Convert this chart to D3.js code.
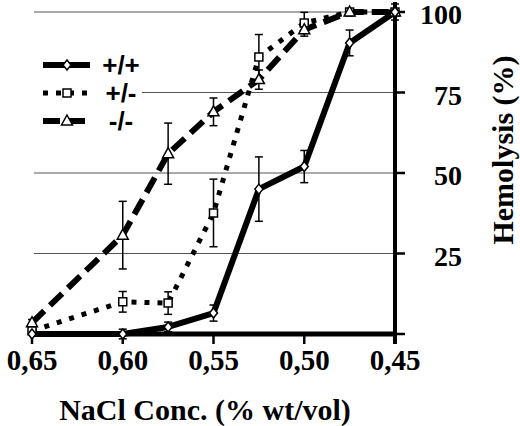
<!DOCTYPE html>
<html><head><meta charset="utf-8">
<script src="https://cdn.jsdelivr.net/npm/d3@7"></script>
<style>body{margin:0;background:#fff}</style>
</head><body><svg id="c" width="520" height="426"></svg>
<script>
const concentrations = [0.65, 0.60, 0.575, 0.55, 0.525, 0.50, 0.475, 0.45];
const wildType      = [0, 0, 2.2, 6.5, 45, 52, 90.4, 100];
const wildTypeErr   = [0, 1.5, 1.5, 2.5, 10, 5, 4, 2.5];
const hetero        = [1, 10, 9.6, 37.6, 86, 96.6, 100, 100];
const heteroErr     = [0, 3.2, 3.5, 10.5, 7, 3.3, 1, 1];
const knockout      = [3.5, 30.7, 56, 69, 79, 94.5, 100, 100];
const knockoutErr   = [1, 10.5, 9.5, 4.3, 3, 2, 1, 1];
const xTicks = [0.65, 0.60, 0.55, 0.50, 0.45];
const xTickLabels = ["0,65", "0,60", "0,55", "0,50", "0,45"];
const yTicks = [0, 25, 50, 75, 100];
const yTickLabels = ["", "25", "50", "75", "100"];
const seriesNames = ["+/+", "+/-", "-/-"];
const xTitle = "NaCl Conc. (% wt/vol)";
const yTitle = "Hemolysis (%)";

const svg = d3.select("#c");
const x = d3.scaleLinear().domain([0.65, 0.45]).range([32, 395]);
const y = d3.scaleLinear().domain([0, 100]).range([334, 12]);
const serif = "'Liberation Serif','Times New Roman',serif";
const sans = "'Liberation Sans',Arial,sans-serif";

// gridlines
svg.append("g").selectAll("line").data(yTicks.filter(d => d > 0)).join("line")
  .attr("x1", 34).attr("x2", x(0.45)).attr("y1", d => y(d)).attr("y2", d => y(d))
  .attr("stroke", "#555").attr("stroke-width", 1);

// series definitions
const series = [
  {name: seriesNames[1], vals: hetero, err: heteroErr, dash: "5,8", w: 5, marker: "square"},
  {name: seriesNames[2], vals: knockout, err: knockoutErr, dash: "17,8", w: 6, marker: "triangle"},
  {name: seriesNames[0], vals: wildType, err: wildTypeErr, dash: null, w: 6, marker: "diamond"}
];

const markerPath = {
  diamond: "M0,-5L4,0L0,5L-4,0Z",
  square: "M-4,-4H4V4H-4Z",
  triangle: "M0,-6L5.5,4H-5.5Z"
};

// axes
const axisG = svg.append("g");
axisG.append("line").attr("x1", 29).attr("x2", x(0.45) + 2).attr("y1", y(0)).attr("y2", y(0))
  .attr("stroke", "#000").attr("stroke-width", 5);
axisG.selectAll(".xt").data(xTicks).join("line")
  .attr("x1", d => x(d)).attr("x2", d => x(d)).attr("y1", y(0)).attr("y2", y(0) + 10)
  .attr("stroke", "#000").attr("stroke-width", 2.5);
axisG.append("line").attr("x1", x(0.45)).attr("x2", x(0.45)).attr("y1", 2).attr("y2", y(0) + 10)
  .attr("stroke", "#000").attr("stroke-width", 4);
axisG.selectAll(".yt").data(yTicks).join("line")
  .attr("x1", x(0.45)).attr("x2", x(0.45) + 10).attr("y1", d => y(d)).attr("y2", d => y(d))
  .attr("stroke", "#000").attr("stroke-width", 2.5);

// tick labels
svg.append("g").selectAll("text").data(xTicks).join("text")
  .attr("x", d => x(d)).attr("y", y(0) + 36)
  .attr("text-anchor", "middle").attr("font-family", serif).attr("font-weight", "bold")
  .attr("font-size", 29).text((d, i) => xTickLabels[i]);
svg.append("g").selectAll("text").data(yTicks).join("text")
  .attr("x", 462).attr("y", d => y(d) + 12)
  .attr("text-anchor", "end").attr("font-family", serif).attr("font-weight", "bold")
  .attr("font-size", 28).text((d, i) => yTickLabels[i]);

// titles
svg.append("text").attr("x", 205).attr("y", 420).attr("text-anchor", "middle")
  .attr("font-family", serif).attr("font-weight", "bold").attr("font-size", 30).text(xTitle);
svg.append("text").attr("transform", "translate(513,150) rotate(-90)").attr("text-anchor", "middle")
  .attr("font-family", serif).attr("font-weight", "bold").attr("font-size", 30).text(yTitle);

// lines
const line = d3.line().x(d => x(d[0])).y(d => y(d[1]));
series.forEach(s => {
  const pts = concentrations.map((c, i) => [c, s.vals[i]]);
  svg.append("path").attr("d", line(pts)).attr("fill", "none").attr("stroke", "#000")
    .attr("stroke-width", s.w).attr("stroke-dasharray", s.dash).attr("stroke-linejoin", "round");
});
// error bars
series.forEach(s => {
  const g = svg.append("g").attr("stroke", "#000").attr("stroke-width", 1.5);
  concentrations.forEach((c, i) => {
    const e = s.err[i];
    if (!e) return;
    const cx = x(c), top = y(s.vals[i] + e), bot = y(s.vals[i] - e);
    g.append("line").attr("x1", cx).attr("x2", cx).attr("y1", top).attr("y2", bot);
    g.append("line").attr("x1", cx - 4).attr("x2", cx + 4).attr("y1", top).attr("y2", top);
    g.append("line").attr("x1", cx - 4).attr("x2", cx + 4).attr("y1", bot).attr("y2", bot);
  });
});
// markers
series.forEach(s => {
  svg.append("g").selectAll("path").data(concentrations).join("path")
    .attr("transform", (c, i) => `translate(${x(c)},${y(s.vals[i])})`)
    .attr("d", markerPath[s.marker]).attr("fill", "#fff").attr("stroke", "#000").attr("stroke-width", 1.5);
});

// legend
const leg = svg.append("g");
leg.append("rect").attr("x", 34).attr("y", 48).attr("width", 108).attr("height", 88).attr("fill", "#fff");
const legRows = [
  {s: series[2], y: 65},
  {s: series[0], y: 93},
  {s: series[1], y: 121}
];
legRows.forEach(r => {
  leg.append("line").attr("x1", 43).attr("x2", 90).attr("y1", r.y).attr("y2", r.y)
    .attr("stroke", "#000").attr("stroke-width", r.s.w).attr("stroke-dasharray", r.s.dash);
  leg.append("path").attr("transform", `translate(67,${r.y})`).attr("d", markerPath[r.s.marker])
    .attr("fill", "#fff").attr("stroke", "#000").attr("stroke-width", 1.5);
  leg.append("text").attr("x", 121).attr("y", r.y + 9).attr("text-anchor", "middle")
    .attr("font-family", sans).attr("font-weight", "bold").attr("font-size", 26).text(r.s.name);
});
</script></body></html>
